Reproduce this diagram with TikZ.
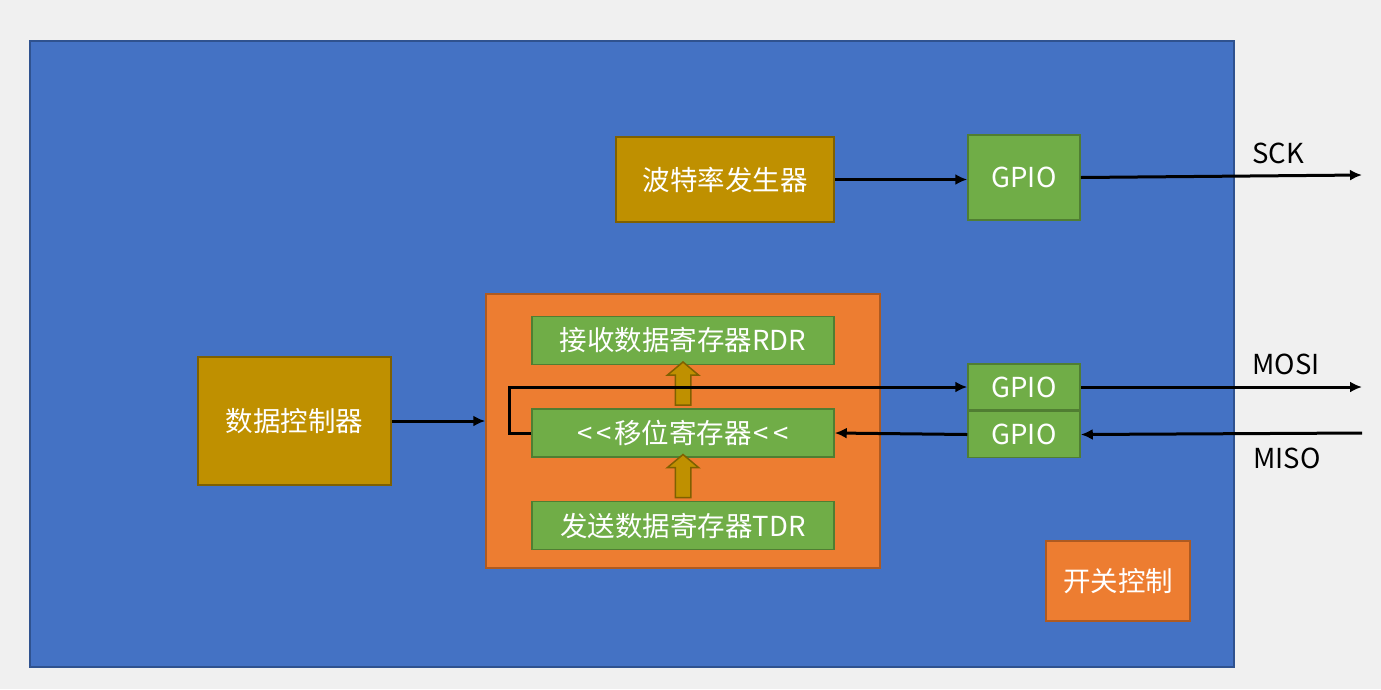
\documentclass[tikz,border=0pt]{standalone}
\usepackage{fontspec}
\setmainfont{Noto Sans CJK SC}
\usepackage{xcolor}
\usetikzlibrary{arrows.meta,positioning,shapes.arrows}

\definecolor{pagebg}{HTML}{F0F0F0}
\definecolor{chipfill}{HTML}{4472C4}
\definecolor{chipline}{HTML}{2F528F}
\definecolor{goldfill}{HTML}{BF9000}
\definecolor{goldline}{HTML}{7F6000}
\definecolor{regfill}{HTML}{70AD47}
\definecolor{regline}{HTML}{507E32}
\definecolor{orgfill}{HTML}{ED7D31}
\definecolor{orgline}{HTML}{AE5A21}

\begin{document}
\begin{tikzpicture}[
  x=1pt, y=-1pt,
  font=\fontsize{27.5}{32}\selectfont,
  box/.style={draw, line width=1.5pt, text=white, inner sep=0pt, align=center},
  goldbox/.style={box, fill=goldfill, draw=goldline},
  regbox/.style={box, fill=regfill, draw=regline},
  orgbox/.style={box, fill=orgfill, draw=orgline},
  arrow/.style={-{Latex[length=12pt,width=11pt]}, line width=3pt},
  bigarrow/.style={single arrow, rotate=90, fill=goldfill, draw=goldline, line width=1.5pt,
    minimum height=43pt, inner xsep=0pt, inner ysep=7pt, single arrow head extend=8pt,
    single arrow tip angle=100},
]
\fill[pagebg] (0,0) rectangle (1381,689);
\useasboundingbox (0,0) rectangle (1381,689);
\filldraw[fill=chipfill, draw=chipline, line width=2pt] (30,41) rectangle (1234,667);

% clock path
\node[goldbox, minimum width=218pt, minimum height=85pt] (baud) at (725,179.5) {波特率发生器};
\node[regbox, minimum width=112pt, minimum height=85pt] (gpioclk) at (1024,177.5) {GPIO};
\coordinate (sckout) at (1362,175);
\draw[arrow] (baud) -- (baud -| gpioclk.west);
\draw[arrow] (gpioclk.east) -- (sckout);
\node (sck) at (1278,153) {SCK};

% shift unit
\node[orgbox, minimum width=394pt, minimum height=274pt] (unit) at (683,431) {};
\node[regbox, minimum width=302pt, minimum height=48pt] (shift) at (683,433) {<\kern4pt<\kern2pt移位寄存器\kern2pt<\kern4pt<};
\node[regbox, minimum width=302pt, minimum height=48pt, above=43pt of shift] (rdr) {接收数据寄存器RDR};
\node[regbox, minimum width=302pt, minimum height=48pt, below=43pt of shift] (tdr) {发送数据寄存器TDR};
\path (tdr.north) -- node[bigarrow] {} (shift.south);
\path (shift.north) -- node[bigarrow] {} (rdr.south);

\node[goldbox, minimum width=193pt, minimum height=128pt] (ctrl) at (294.5,421) {数据控制器};
\draw[arrow] (ctrl.east) -- (ctrl.east -| unit.west);

% data lines
\node[regbox, minimum width=112pt, minimum height=46pt] (gpiomosi) at (1024,387) {GPIO};
\node[regbox, minimum width=112pt, minimum height=46pt, below=0pt of gpiomosi] (gpiomiso) {GPIO};
\draw[arrow] (shift.west) -- ++(-22,0) |- (gpiomosi.west);
\draw[arrow] (gpiomiso.west) -- (shift.east);
\coordinate (mosiout) at (1362,387);
\coordinate (misoin) at (1362,433);
\draw[arrow] (gpiomosi.east) -- (mosiout);
\draw[arrow] (misoin) -- (gpiomiso.east);
\node (mosi) at (1286,364) {MOSI};
\node (miso) at (1287,458) {MISO};

\node[orgbox, minimum width=144pt, minimum height=80pt] (switch) at (1118,581) {开关控制};
\end{tikzpicture}
\end{document}
